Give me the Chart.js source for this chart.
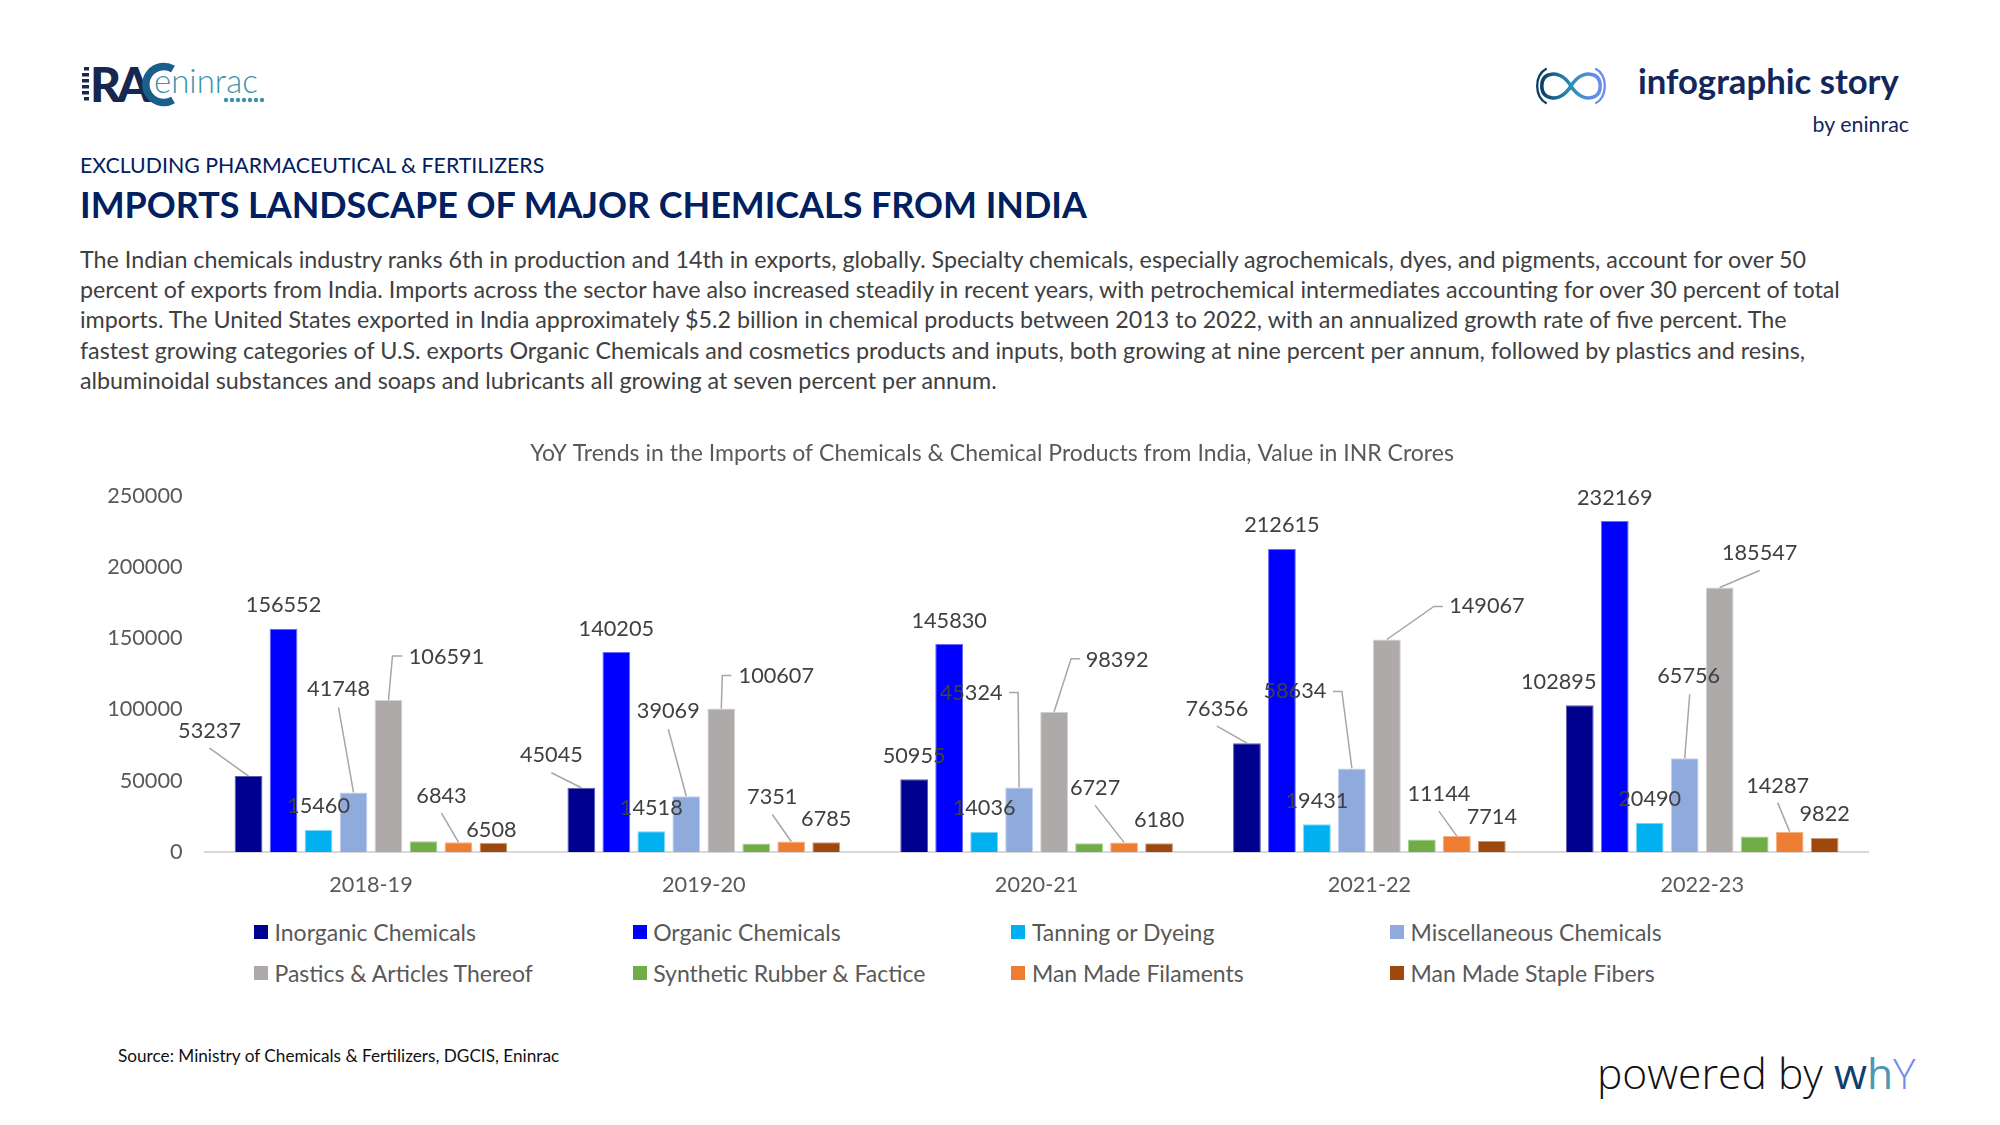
<!DOCTYPE html>
<html>
<head>
<meta charset="utf-8">
<title>Imports landscape of major chemicals</title>
<script src="https://cdn.jsdelivr.net/npm/chart.js@4"></script>
<style>
  html, body { margin: 0; background: #fff; }
  body { position: relative; width: 2000px; height: 1125px; overflow: hidden; font-family: Lato, sans-serif; }
  .abs { position: absolute; white-space: nowrap; }
  #chart { position: absolute; left: 0; top: 430px; }
  #subtitle { left: 80px; top: 151px; font-size: 21.3px; line-height: 28px; color: #002060; }
  #title { left: 80px; top: 180px; font-size: 35.9px; line-height: 50px; font-weight: 700; color: #002060; }
  #body { left: 80px; top: 244px; font-size: 23.3px; line-height: 30.2px; color: #404040; }
  #story { left: 1638px; top: 61px; font-size: 34.7px; line-height: 40px; font-weight: 700; color: #14275c; }
  #by { right: 91px; top: 111px; font-size: 21.4px; line-height: 26px; color: #14275c; }
  #source { left: 118px; top: 1045px; font-size: 17.2px; line-height: 22px; color: #111; }
  #powered { left: 1597px; top: 1044px; font-family: "Open Sans", sans-serif; font-weight: 300; font-size: 42.6px; line-height: 56px; color: #111; }
  #legend { position: absolute; left: 254px; top: 911px; display: grid; grid-template-columns: repeat(4, 378.7px); grid-auto-rows: 41px; }
  #legend div { display: flex; align-items: center; font-size: 23px; color: #595959; white-space: nowrap; }
  #legend i { width: 14px; height: 14px; margin-right: 6.5px; flex: none; }
</style>
</head>
<body>

<svg class="abs" style="left:80px;top:60px" width="190" height="50" viewBox="0 0 190 50">
  <g fill="#16284f">
    <rect x="4" y="7" width="5" height="3.5"/><rect x="2" y="13" width="7" height="3.5"/><rect x="2" y="19" width="7" height="3.5"/>
    <rect x="2" y="25" width="7" height="3.5"/><rect x="2" y="31" width="7" height="3.5"/><rect x="4" y="37" width="5" height="3.5"/>
  </g>
  <text x="10" y="42" font-family="Lato" font-weight="900" font-size="48" letter-spacing="-4" fill="#16284f">RA</text>
  <path d="M93 9 a18 18 0 1 0 0 31" fill="none" stroke="#1a5f8a" stroke-width="7.5"/>
  <text x="74" y="33" font-family="Lato" font-weight="300" font-size="33" fill="#3d93ad">eninrac</text>
  <g fill="#3d93ad">
    <circle cx="146" cy="40" r="2.2"/><circle cx="152" cy="40" r="2.2"/><circle cx="158" cy="40" r="2.2"/><circle cx="164" cy="40" r="2.2"/>
    <circle cx="170" cy="40" r="2.2"/><circle cx="176" cy="40" r="2.2"/><circle cx="182" cy="40" r="2.2"/>
  </g>
</svg>

<svg class="abs" style="left:1535px;top:66px" width="72" height="40" viewBox="0 0 74 40">
  <defs><linearGradient id="inf" x1="0" x2="1"><stop offset="0" stop-color="#0d3f66"/><stop offset=".5" stop-color="#2c8fb5"/><stop offset="1" stop-color="#6d8cf0"/></linearGradient></defs>
  <path d="M37 20 C30 9 22 7 17 8 C9 9 7 15 7 20 C7 25 9 31 17 32 C22 33 30 31 37 20 C44 9 52 7 57 8 C65 9 67 15 67 20 C67 25 65 31 57 32 C52 33 44 31 37 20 Z" fill="none" stroke="url(#inf)" stroke-width="3.6"/>
  <path d="M12 2 C-1 9 -1 31 12 38" fill="none" stroke="#0d3f66" stroke-width="2.4"/>
  <path d="M62 2 C75 9 75 31 62 38" fill="none" stroke="#6d8cf0" stroke-width="2.4"/>
</svg>

<div class="abs" id="story">infographic story</div>
<div class="abs" id="by">by eninrac</div>
<div class="abs" id="subtitle">EXCLUDING PHARMACEUTICAL &amp; FERTILIZERS</div>
<div class="abs" id="title">IMPORTS LANDSCAPE OF MAJOR CHEMICALS FROM INDIA</div>
<div class="abs" id="body">The Indian chemicals industry ranks 6th in production and 14th in exports, globally. Specialty chemicals, especially agrochemicals, dyes, and pigments, account for over 50<br>percent of exports from India. Imports across the sector have also increased steadily in recent years, with petrochemical intermediates accounting for over 30 percent of total<br>imports. The United States exported in India approximately $5.2 billion in chemical products between 2013 to 2022, with an annualized growth rate of five percent. The<br>fastest growing categories of U.S. exports Organic Chemicals and cosmetics products and inputs, both growing at nine percent per annum, followed by plastics and resins,<br>albuminoidal substances and soaps and lubricants all growing at seven percent per annum.</div>

<canvas id="chart" width="1984" height="480"></canvas>
<div id="legend"></div>

<div class="abs" id="source">Source: Ministry of Chemicals &amp; Fertilizers, DGCIS, Eninrac</div>
<div class="abs" id="powered">powered by <span style="color:#0f3f6e;font-weight:400">w</span><span style="color:#4b97b8;font-weight:400">h</span><span style="color:#6d8cf0">Y</span></div>

<script>
// values (synthetic rubber has no printed labels, so estimated)
const years = ['2018-19', '2019-20', '2020-21', '2021-22', '2022-23'];
const inorganic = [53237, 45045, 50955, 76356, 102895];
const organic = [156552, 140205, 145830, 212615, 232169];
const tanning = [15460, 14518, 14036, 19431, 20490];
const misc = [41748, 39069, 45324, 58634, 65756];
const plastics = [106591, 100607, 98392, 149067, 185547];
const rubber = [7500, 6000, 6100, 8800, 10800];
const filaments = [6843, 7351, 6727, 11144, 14287];
const staple = [6508, 6785, 6180, 7714, 9822];

const seriesNames = ['Inorganic Chemicals', 'Organic Chemicals', 'Tanning or Dyeing', 'Miscellaneous Chemicals',
  'Pastics & Articles Thereof', 'Synthetic Rubber & Factice', 'Man Made Filaments', 'Man Made Staple Fibers'];
const seriesValues = [inorganic, organic, tanning, misc, plastics, rubber, filaments, staple];
const seriesColors = ['#00008f', '#0000ff', '#00b0f0', '#8faadc', '#aeaaaa', '#70ad47', '#ed7d31', '#9e480e'];
const seriesEdges = ['#5a5ab5', '#6a6aff', '#7fd5f5', '#c3d1ec', '#d3d1d1', '#a9d08e', '#f4b183', '#c99a78'];
const unlabelled = [5];

// label placement relative to the top centre of each bar: series -> per year [dx, dy, leader points]
const labelPlace = {
  0: [[-39, -45, [[-39, -28]]], [-30, -33, [[-30, -15]]], [0, -23], [-30, -34, [[-30, -17]]], [-21, -23]],
  1: [[0, -24], [0, -23], [0, -23], [0, -24], [0, -23]],
  2: [[0, -24], [0, -23], [0, -24], [0, -23], [0, -24]],
  3: [[-15, -103, [[-15, -85]]], [-18, -85, [[-18, -67]]], [-48, -94, [[-1, -95], [-10, -95]]], [-57, -77, [[-10, -77], [-19, -77]]], [4, -82, [[5, -64]]]],
  4: [[58, -43, [[4, -44], [14, -44]]], [55, -33, [[1, -33], [10, -33]]], [63, -52, [[17, -53], [26, -53]]], [100, -33, [[47, -33], [56, -33]]], [40, -34, [[40, -17]]]],
  6: [[-17, -46, [[-17, -29]]], [-19, -45, [[-19, -27]]], [-29, -54, [[-29, -37]]], [-18, -42, [[-18, -25]]], [-12, -46, [[-12, -29]]]],
  7: [[-2, -13], [0, -23], [0, -23], [0, -24], [0, -24]]
};

const barLabels = {
  id: 'barLabels',
  // the left padding centres the title; widen the y box so its labels are not clipped
  afterLayout(chart) {
    const y = chart.scales.y;
    y.left -= 20;
    y.width += 20;
  },
  afterDatasetsDraw(chart) {
    const ctx = chart.ctx;
    ctx.save();
    ctx.font = '21.7px Lato';
    ctx.textAlign = 'center';
    ctx.textBaseline = 'middle';
    seriesNames.forEach((name, s) => {
      if (unlabelled.includes(s)) return;
      chart.getDatasetMeta(s).data.forEach((bar, i) => {
        const [dx, dy, leader] = labelPlace[s][i];
        if (leader) {
          ctx.strokeStyle = '#a6a6a6';
          ctx.lineWidth = 1.5;
          ctx.beginPath();
          ctx.moveTo(bar.x, bar.y);
          leader.forEach(p => ctx.lineTo(bar.x + p[0], bar.y + p[1]));
          ctx.stroke();
        }
        ctx.fillStyle = '#404040';
        ctx.fillText(String(seriesValues[s][i]), bar.x + dx, bar.y + dy);
      });
    });
    ctx.restore();
  }
};

new Chart(document.getElementById('chart'), {
  type: 'bar',
  data: {
    labels: years,
    datasets: seriesNames.map((name, s) => ({
      label: name,
      data: seriesValues[s],
      backgroundColor: seriesColors[s],
      borderColor: seriesEdges[s],
      borderWidth: 1,
      categoryPercentage: 0.841,
      barPercentage: 0.794,
    }))
  },
  plugins: [barLabels],
  options: {
    responsive: false,
    animation: false,
    devicePixelRatio: 1,
    layout: { padding: { left: 115.4, right: 115.4, top: 0, bottom: 0 } },
    plugins: {
      legend: { display: false },
      tooltip: { enabled: false },
      title: {
        display: true,
        text: 'YoY Trends in the Imports of Chemicals & Chemical Products from India, Value in INR Crores',
        color: '#595959',
        font: { family: 'Lato', size: 23, weight: 'normal' },
        padding: { top: 10, bottom: 28 }
      }
    },
    scales: {
      x: {
        grid: { display: false },
        border: { color: '#d9d9d9', width: 2 },
        ticks: { color: '#595959', font: { family: 'Lato', size: 21.7 }, padding: 12, maxRotation: 0 },
        afterFit: s => { s.height = 58; }
      },
      y: {
        min: 0,
        max: 250000,
        grid: { display: false },
        border: { display: false },
        ticks: { stepSize: 50000, color: '#595959', font: { family: 'Lato', size: 21.7 }, padding: 14, callback: v => String(v) },
        afterFit: s => { s.width = 89.2; }
      }
    }
  }
});

// legend sits in four fixed columns, which the built-in one cannot do
const legendEl = document.getElementById('legend');
seriesNames.forEach((name, s) => {
  const item = document.createElement('div');
  const swatch = document.createElement('i');
  swatch.style.background = seriesColors[s];
  item.appendChild(swatch);
  item.appendChild(document.createTextNode(name));
  legendEl.appendChild(item);
});
</script>
</body>
</html>
